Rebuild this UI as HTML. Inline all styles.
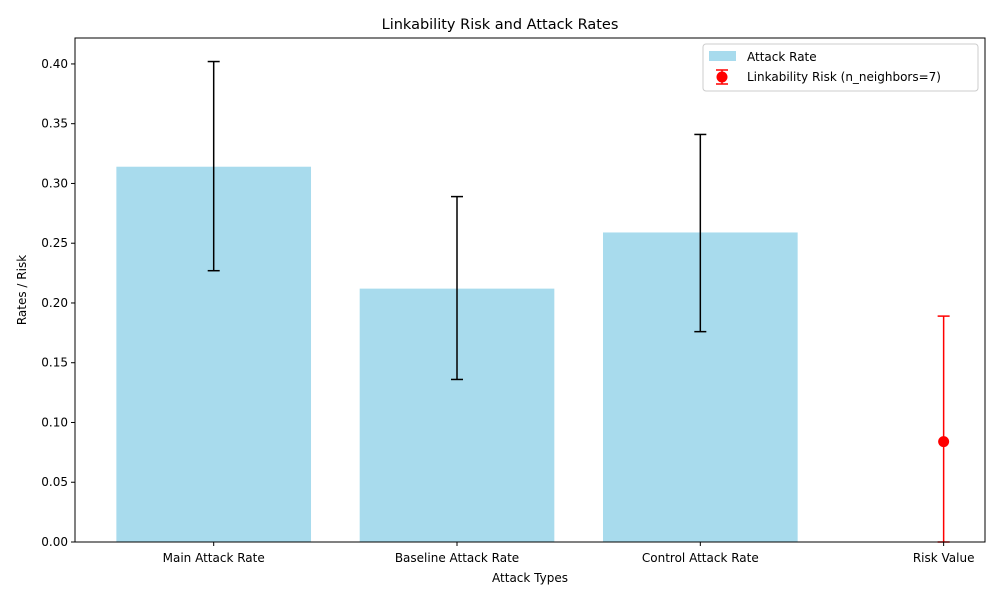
<!DOCTYPE html>
<html><head><meta charset="utf-8"><style>
body{margin:0;background:#fff;font-family:"Liberation Sans","DejaVu Sans",sans-serif;}
svg text{font-family:"DejaVu Sans","Liberation Sans",sans-serif;}
</style></head><body>
<svg id="chart" width="1000" height="600"></svg>
<script>
const categories=["Main Attack Rate","Baseline Attack Rate","Control Attack Rate"];
const rates=[0.314,0.212,0.259];
const rateLow=[0.227,0.136,0.176];
const rateHigh=[0.402,0.289,0.341];
const riskLabel="Risk Value";
const riskValue=[0.084];
const riskLow=[0.0];
const riskHigh=[0.189];
const yTicks=[0,0.05,0.10,0.15,0.20,0.25,0.30,0.35,0.40];
const L=75,R=985,T=38,B=542,xmin=-0.57,xmax=3.17,ymax=0.4217;
const xs=v=>L+(v-xmin)/(xmax-xmin)*(R-L);
const ys=v=>B-v/ymax*(B-T);
const svg=document.getElementById('chart');
const NS='http://www.w3.org/2000/svg';
function mk(t,a,txt){const e=document.createElementNS(NS,t);for(const k in a)e.setAttribute(k,a[k]);if(txt!==undefined)e.textContent=txt;svg.appendChild(e);return e;}
categories.forEach((c,i)=>{
 const b=mk('rect',{x:xs(i-0.4),y:ys(rates[i]),width:xs(i+0.4)-xs(i-0.4),height:B-ys(rates[i]),fill:'#a8dbed'});
 
 
});
categories.forEach((c,i)=>{
 const g=mk('g',{stroke:'#000','stroke-width':1.5});
 
 
 const x=xs(i);
 [['line',{x1:x,x2:x,y1:ys(rateLow[i]),y2:ys(rateHigh[i])}],['line',{x1:x-6,x2:x+6,y1:ys(rateLow[i]),y2:ys(rateLow[i])}],['line',{x1:x-6,x2:x+6,y1:ys(rateHigh[i]),y2:ys(rateHigh[i])}]].forEach(([t,a])=>{const e=document.createElementNS(NS,t);for(const k in a)e.setAttribute(k,a[k]);g.appendChild(e);});
});
{
 const x=xs(3);
 const g=mk('g',{stroke:'red','stroke-width':1.5});
 
 
 [{x1:x,x2:x,y1:ys(riskLow[0]),y2:ys(riskHigh[0])},{x1:x-6,x2:x+6,y1:ys(riskLow[0]),y2:ys(riskLow[0])},{x1:x-6,x2:x+6,y1:ys(riskHigh[0]),y2:ys(riskHigh[0])}].forEach(a=>{const e=document.createElementNS(NS,'line');for(const k in a)e.setAttribute(k,a[k]);g.appendChild(e);});
 const p=mk('circle',{cx:x,cy:ys(riskValue[0]),r:5.5,fill:'red'});
 
 
}
mk('rect',{x:L,y:T,width:R-L,height:B-T,fill:'none',stroke:'#000','stroke-width':1});
yTicks.forEach(v=>{
 const y=ys(v);
 mk('line',{x1:L-4,x2:L,y1:y,y2:y,stroke:'#000'});
 const t=mk('text',{x:L-7,y:y+4,'text-anchor':'end','font-size':12},v.toFixed(2));
 
 
});
categories.concat([riskLabel]).forEach((c,i)=>{
 const x=xs(i);
 mk('line',{x1:x,x2:x,y1:B,y2:B+4,stroke:'#000'});
 const t=mk('text',{x:x,y:B+20,'text-anchor':'middle','font-size':12},c);
 
 
});
mk('text',{x:500,y:29,'text-anchor':'middle','font-size':14.5,},'Linkability Risk and Attack Rates');
mk('text',{x:530,y:582,'text-anchor':'middle','font-size':12,},'Attack Types');
mk('text',{x:26,y:290,'text-anchor':'middle','font-size':12,transform:'rotate(-90 26 290)',},'Rates / Risk');
const lg=mk('g',{});
mk('rect',{x:703,y:44,width:275,height:47,rx:3,fill:'#fff',stroke:'#ccc'});
mk('rect',{x:709,y:51,width:27,height:10,fill:'#a8dbed',});
mk('text',{x:747,y:61,'font-size':12},'Attack Rate');
mk('line',{x1:722,x2:722,y1:70,y2:84,stroke:'red','stroke-width':1.5});
mk('line',{x1:716,x2:728,y1:70,y2:70,stroke:'red','stroke-width':1.5});
mk('line',{x1:716,x2:728,y1:84,y2:84,stroke:'red','stroke-width':1.5});
mk('circle',{cx:722,cy:77,r:5.5,fill:'red',});
mk('text',{x:747,y:81,'font-size':12},'Linkability Risk (n_neighbors=7)');
</script>
</body></html>
